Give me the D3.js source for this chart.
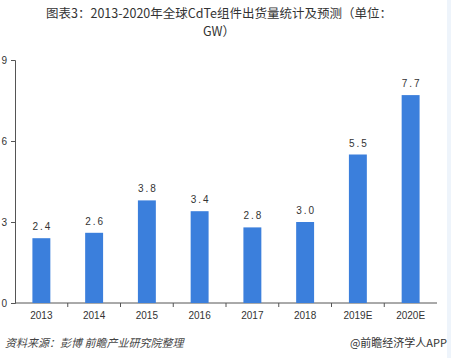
<!DOCTYPE html>
<html>
<head>
<meta charset="utf-8">
<script src="https://cdn.jsdelivr.net/npm/d3@7"></script>
<style>
    body { margin: 0; background: #fff; }
    svg { display: block; font-family: "Liberation Sans", Arial, "Noto Sans CJK SC", sans-serif; }
</style>
</head>
<body>
<div id="chart"></div>
<script>
const years = ["2013", "2014", "2015", "2016", "2017", "2018", "2019E", "2020E"];
const shipments = [2.4, 2.6, 3.8, 3.4, 2.8, 3.0, 5.5, 7.7];
const yTicks = [0, 3, 6, 9];
const titleLines = ["图表3：2013-2020年全球CdTe组件出货量统计及预测（单位：", "GW）"];

const width = 451,
    height = 358;

let svg = d3.select("#chart")
    .append("svg")
    .attr("width", width)
    .attr("height", height);

// light strip on the right edge
svg.append("rect")
    .attr("x", 447).attr("y", 0)
    .attr("width", 4).attr("height", height)
    .attr("fill", "#eef4fb");

// title, two separate lines
svg.selectAll(".title")
    .data(titleLines)
    .enter()
    .append("text")
    .attr("x", 219)
    .attr("y", (d, i) => 18 + i * 18)
    .attr("text-anchor", "middle")
    .attr("fill", "#333")
    .style("font-size", "12.5px")
    .style("font-family", "'Noto Sans CJK SC', sans-serif")
    .text(d => d);

let x = d3.scaleBand()
    .domain(years)
    .range([15, 437])
    .paddingInner(0.66)
    .paddingOuter(0.33);

let y = d3.scaleLinear()
    .domain([0, 9])
    .range([303, 60]);

// y axis
let yAxis = svg.append("g")
    .attr("transform", "translate(15,0)")
    .call(d3.axisLeft(y).tickValues(yTicks).tickSize(4).tickPadding(4));
yAxis.selectAll("text").style("font-size", "10px").attr("fill", "#333");
yAxis.selectAll("line, path").attr("stroke", "#555");

// x axis with ticks at band boundaries
let xAxisG = svg.append("g").attr("transform", "translate(0,303)");
xAxisG.append("line")
    .attr("x1", 15).attr("x2", 437)
    .attr("stroke", "#555");
xAxisG.selectAll(".sep")
    .data(years.slice(1))
    .enter()
    .append("line")
    .attr("x1", d => x(d) - x.step() * x.paddingInner() / 2)
    .attr("x2", d => x(d) - x.step() * x.paddingInner() / 2)
    .attr("y1", 0).attr("y2", 4)
    .attr("stroke", "#555");
xAxisG.selectAll(".lbl")
    .data(years)
    .enter()
    .append("text")
    .attr("x", d => x(d) + x.bandwidth() / 2)
    .attr("y", 16)
    .attr("text-anchor", "middle")
    .attr("fill", "#333")
    .style("font-size", "10px")
    .text(d => d);

// bars
svg.selectAll(".bar")
    .data(shipments)
    .enter()
    .append("rect")
    .attr("x", (d, i) => x(years[i]))
    .attr("y", d => y(d))
    .attr("width", x.bandwidth())
    .attr("height", d => y(0) - y(d))
    .attr("fill", "#3b7fdc");

// value labels
svg.selectAll(".val")
    .data(shipments)
    .enter()
    .append("text")
    .attr("x", (d, i) => x(years[i]) + x.bandwidth() / 2 + 1)
    .attr("y", d => y(d) - 8)
    .attr("text-anchor", "middle")
    .attr("fill", "#333")
    .style("font-size", "10px")
    .style("letter-spacing", "2px")
    .text(d => d.toFixed(1));

// footer
svg.append("text")
    .attr("x", 5).attr("y", 347)
    .attr("fill", "#444")
    .style("font-size", "11px")
    .style("font-style", "italic")
    .style("font-family", "'Noto Sans CJK SC', sans-serif")
    .text("资料来源：彭博  前瞻产业研究院整理");

svg.append("text")
    .attr("x", 447).attr("y", 347)
    .attr("text-anchor", "end")
    .attr("fill", "#333")
    .style("font-size", "11px")
    .style("font-family", "'Noto Sans CJK SC', sans-serif")
    .text("@前瞻经济学人APP");
</script>
</body>
</html>
